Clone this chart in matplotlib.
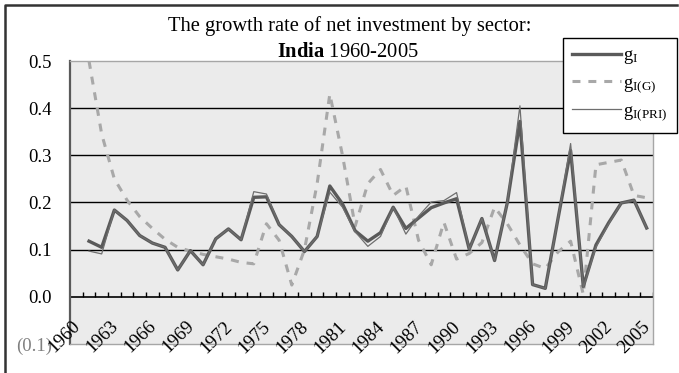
import matplotlib
matplotlib.use("Agg")
import matplotlib.pyplot as plt
from matplotlib.lines import Line2D
from matplotlib.transforms import offset_copy

plt.rcParams["font.family"] = ["Liberation Serif", "DejaVu Serif"]
plt.rcParams["mathtext.fontset"] = "custom"
plt.rcParams["mathtext.rm"] = "Liberation Serif"
plt.rcParams["mathtext.it"] = "Liberation Serif:italic"
plt.rcParams["mathtext.bf"] = "Liberation Serif:bold"

# categories: one per year, 1960-2005; series start in 1961
categories = [str(y) for y in range(1960, 2006)]
tick_years = [1960, 1963, 1966, 1969, 1972, 1975, 1978, 1981, 1984, 1987,
              1990, 1993, 1996, 1999, 2002, 2005]
series_years = list(range(1961, 2006))

g_total = [0.118, 0.105, 0.184, 0.162, 0.130, 0.114, 0.105, 0.057, 0.098, 0.068,
           0.123, 0.144, 0.121, 0.211, 0.212, 0.153, 0.128, 0.096, 0.128, 0.235,
           0.197, 0.140, 0.118, 0.136, 0.190, 0.145, 0.167, 0.189, 0.199, 0.208,
           0.101, 0.166, 0.077, 0.199, 0.372, 0.026, 0.018, 0.165, 0.310, 0.022,
           0.110, 0.157, 0.199, 0.205, 0.146]
g_public = [0.500, 0.345, 0.250, 0.205, 0.170, 0.145, 0.122, 0.105, 0.097, 0.090,
            0.085, 0.080, 0.073, 0.070, 0.155, 0.120, 0.025, 0.100, 0.240, 0.430,
            0.300, 0.150, 0.240, 0.270, 0.215, 0.235, 0.120, 0.068, 0.158, 0.080,
            0.092, 0.115, 0.190, 0.155, 0.110, 0.070, 0.060, 0.095, 0.118, 0.005,
            0.280, 0.285, 0.290, 0.215, 0.210]
g_private = [0.097, 0.091, 0.184, 0.162, 0.130, 0.114, 0.105, 0.057, 0.098, 0.068,
             0.123, 0.144, 0.121, 0.223, 0.218, 0.153, 0.128, 0.096, 0.128, 0.222,
             0.190, 0.138, 0.107, 0.128, 0.190, 0.133, 0.171, 0.201, 0.204, 0.221,
             0.101, 0.166, 0.077, 0.199, 0.405, 0.026, 0.018, 0.165, 0.325, 0.020,
             0.105, 0.155, 0.199, 0.205, 0.146]

y_ticks = [-0.1, 0.0, 0.1, 0.2, 0.3, 0.4, 0.5]
y_labels = ["(0.1)", "0.0", "0.1", "0.2", "0.3", "0.4", "0.5"]

W, H = 679, 373
fig = plt.figure(figsize=(W / 100, H / 100), dpi=100)
ax = fig.add_axes([70 / W, 1 - 344 / H, 583 / W, 283 / H])
ax.set_facecolor("#ebebeb")

xs = [categories.index(str(y)) for y in series_years]
ax.plot(xs, g_public, color="#a8a8a8", lw=2.2, ls=(0, (2.6, 2.6)), zorder=3)
ax.plot(xs, g_total, color="#5a5a5a", lw=2.4, solid_joinstyle="round", zorder=4)
ax.plot(xs, g_private, color="#6e6e6e", lw=0.9, zorder=5)

ax.set_xlim(-0.5, len(categories) - 0.5)
ax.set_ylim(-0.1, 0.5)

# horizontal gridlines and the category axis at zero
for v in y_ticks[2:-1]:
    ax.axhline(v, color="black", lw=1, zorder=1)
ax.axhline(0, color="black", lw=1.2, zorder=2)
bounds = [i + 0.5 for i in range(len(categories) - 1)] + [len(categories) - 0.5]
ax.vlines(bounds, 0, 0.0095, color="black", lw=1, zorder=2)

ax.set_yticks(y_ticks)
ax.set_yticklabels(y_labels, fontsize=13.5)
ax.tick_params(axis="y", length=0, pad=13)
ax.get_yticklabels()[0].set_color("#808080")
ax.set_xticks([])

label_tr = offset_copy(ax.transData, fig=fig, x=-5, y=-21, units="dots")
for y in tick_years:
    ax.text(categories.index(str(y)), 0, str(y), transform=label_tr, rotation=45,
            rotation_mode="anchor", ha="right", va="top", fontsize=13.5)

for side in ("top", "right", "bottom"):
    ax.spines[side].set_color("#a6a6a6")
    ax.spines[side].set_linewidth(1)
ax.spines["left"].set_color("#5a5a5a")
ax.spines["left"].set_linewidth(1.6)

fig.text(349.5 / W, 1 - 31 / H, "The growth rate of net investment by sector:",
         ha="center", va="baseline", fontsize=14.8)
fig.text(348 / W, 1 - 57 / H, r"$\mathbf{India}$ 1960-2005",
         ha="center", va="baseline", fontsize=14.8)

handles = [
    Line2D([], [], color="#5a5a5a", lw=2.4),
    Line2D([], [], color="#a8a8a8", lw=2.2, ls=(0, (2.6, 2.6))),
    Line2D([], [], color="#6e6e6e", lw=0.9),
]
labels = [r"$\mathrm{g_{I}}$", r"$\mathrm{g_{I(G)}}$", r"$\mathrm{g_{I(PRI)}}$"]
leg = ax.legend(handles, labels, loc="upper left",
                bbox_to_anchor=(563 / W, 1 - 38 / H), bbox_transform=fig.transFigure,
                fontsize=13.5, frameon=True, fancybox=False, framealpha=1,
                edgecolor="black", handlelength=2.6, handletextpad=0.1,
                borderpad=0.5, labelspacing=0.42, borderaxespad=0)
leg.get_frame().set_linewidth(1)
leg.set_zorder(10)

# outer chart frame (top and left edges)
fig.add_artist(Line2D([5 / W, 5 / W, 677 / W], [0, 1 - 5 / H, 1 - 5 / H],
                      transform=fig.transFigure, color="#333333", lw=1.8))

fig.savefig("out.png", dpi=100)
